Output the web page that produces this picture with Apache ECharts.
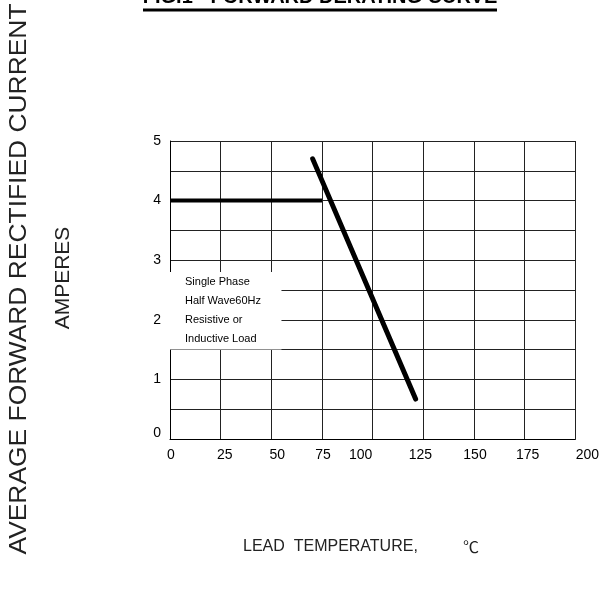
<!DOCTYPE html>
<html><head><meta charset="utf-8">
<script src="https://cdn.jsdelivr.net/npm/echarts@6/dist/echarts.min.js"></script>
<style>html,body{margin:0;padding:0;background:#fff}#c{width:602px;height:594px}</style>
</head><body><div id="c"></div>
<script>
const titleText = 'FIG.1 - FORWARD DERATING CURVE';
const yTitle = 'AVERAGE FORWARD RECTIFIED CURRENT';
const yUnit = 'AMPERES';
const xTitle = 'LEAD  TEMPERATURE,';
const xUnit = '℃';
const xTicks = [0, 25, 50, 75, 100, 125, 150, 175, 200];
const yTicks = [0, 1, 2, 3, 4, 5];
const flatSegment = [[0, 4], [75, 4]];
const deratingSegment = [[70.4, 4.7], [121.2, 0.67]];
const noteLines = ['Single Phase', 'Half Wave60Hz', 'Resistive or', 'Inductive Load'];
const noteBox = [[0, 2.8], [55, 1.5]];

const FONT = '"Liberation Sans", Arial, sans-serif';
const chart = echarts.init(document.getElementById('c'));
const xShift = {0: 1, 25: 4, 50: 6, 75: 1, 100: -12, 125: -3, 150: 1, 175: 3, 200: 12};
const rich = {};
xTicks.forEach(v => {
  const s = xShift[v] || 0;
  rich['x' + v] = { fontSize: 14, fontFamily: FONT, color: '#000',
    padding: s >= 0 ? [0, 0, 0, 2 * s] : [0, -2 * s, 0, 0] };
});

chart.setOption({
  animation: false,
  backgroundColor: '#fff',
  grid: { left: 170, right: 26, top: 141, bottom: 155 },
  xAxis: {
    type: 'value', min: xTicks[0], max: xTicks[xTicks.length - 1], interval: 25,
    axisLine: { show: true, lineStyle: { color: '#000', width: 1 } },
    axisTick: { show: false },
    axisLabel: { margin: 9, formatter: v => '{x' + v + '|' + v + '}', rich: rich },
    splitLine: { show: true, lineStyle: { color: '#222', width: 1 } }
  },
  yAxis: {
    type: 'value', min: yTicks[0], max: yTicks[yTicks.length - 1], interval: 0.5,
    axisLine: { show: true, lineStyle: { color: '#000', width: 1 } },
    axisTick: { show: false },
    axisLabel: { margin: 9, fontSize: 14, fontFamily: FONT, color: '#000',
      formatter: v => Number.isInteger(v) ? (v === 0 ? '{z|0}' : String(v)) : '',
      rich: { z: { fontSize: 14, fontFamily: FONT, color: '#000', padding: [0, 0, 12, 0] } } },
    splitLine: { show: true, lineStyle: { color: '#222', width: 1 } }
  },
  graphic: [
    { type: 'text', x: 320, y: 7,
      style: { text: titleText, font: 'bold 20px ' + FONT, fill: '#000', align: 'center', verticalAlign: 'bottom' } },
    { type: 'line', shape: { x1: 143, y1: 10, x2: 497, y2: 10 }, style: { stroke: '#000', lineWidth: 3 } },
    { type: 'text', x: 19, y: 279, rotation: Math.PI / 2, scaleX: 1.1,
      style: { text: yTitle, font: '24px ' + FONT, fill: '#222', align: 'center', verticalAlign: 'middle' } },
    { type: 'text', x: 63, y: 278, rotation: Math.PI / 2,
      style: { text: yUnit, font: '21px ' + FONT, fill: '#222', align: 'center', verticalAlign: 'middle' } },
    { type: 'text', x: 243, y: 547,
      style: { text: xTitle, font: '16px ' + FONT, fill: '#222', align: 'left', verticalAlign: 'middle' } },
    { type: 'text', x: 471, y: 547,
      style: { text: xUnit, font: '16px "Noto Sans CJK SC", ' + FONT, fill: '#222', align: 'center', verticalAlign: 'middle' } }
  ],
  series: [
    {
      type: 'line', data: [], z: 1, silent: true,
      markArea: {
        silent: true,
        itemStyle: { color: '#fff', opacity: 1, borderWidth: 0 },
        label: { show: true, position: 'insideTopLeft', distance: 0, padding: [0, 0, 0, 15],
          formatter: noteLines.join('\n'), fontSize: 11, lineHeight: 19, fontFamily: FONT, color: '#000' },
        data: [[{ xAxis: noteBox[0][0], yAxis: noteBox[0][1] }, { xAxis: noteBox[1][0], yAxis: noteBox[1][1] }]]
      }
    },
    { type: 'line', data: flatSegment, z: 3, symbol: 'none', lineStyle: { color: '#000', width: 4 } },
    { type: 'line', data: deratingSegment, z: 3, symbol: 'none', lineStyle: { color: '#000', width: 5, cap: 'round' } }
  ]
});
</script></body></html>
